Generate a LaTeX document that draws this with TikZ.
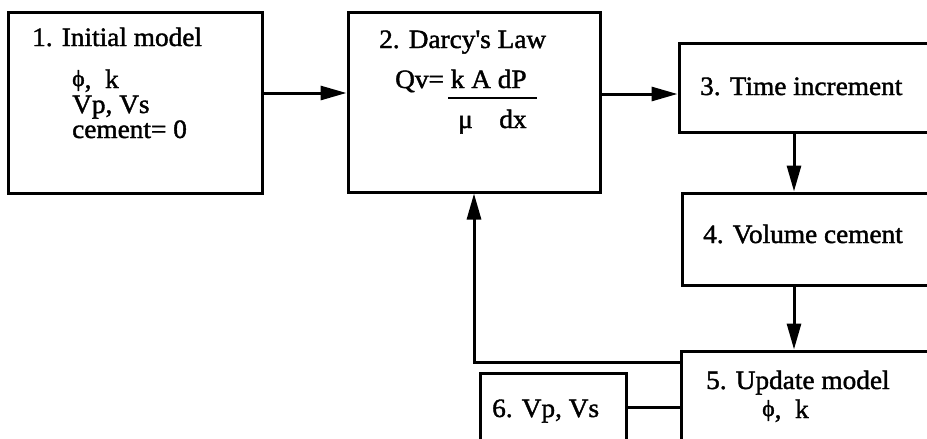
\documentclass[tikz,border=0pt]{standalone}
\usepackage{fontspec}
\setmainfont{Liberation Serif}[FakeStretch=1.03,FakeBold=1.5]
\usetikzlibrary{arrows.meta,calc,positioning}
\tikzstyle{block}=[draw,line width=3pt,inner sep=0pt]
\tikzstyle{txt}=[anchor=base west,inner sep=0pt,font=\fontsize{26.5}{26.5}\selectfont]
\tikzstyle{flow}=[line width=3pt,-{Triangle[length=26pt,width=14pt]}]
\newcommand{\phisym}{\raisebox{2pt}{\fontsize{23}{23}\selectfont ϕ}}

\begin{document}
\begin{tikzpicture}[x=1pt,y=-1pt]
  \useasboundingbox (0,0) rectangle (927,439);
  \clip (0,0) rectangle (927,439);
% boxes
  \node[block,minimum width=254pt,minimum height=181pt] (B1) at (135,102.5) {};
  \node[block,minimum width=252pt,minimum height=180pt] (B2) at (474,102) {};
  \node[block,minimum width=281pt,minimum height=89pt]  (B3) at (819.5,87.5) {};
  \node[block,minimum width=278pt,minimum height=92pt]  (B4) at (821,239) {};
  \node[block,minimum width=279pt,minimum height=129pt] (B5) at (820.5,415.5) {};
  \node[block,minimum width=146pt,minimum height=107pt] (B6) at (553,426.5) {};
% texts
  \node[txt] (T1) at (32,46) {1. Initial model};
  \foreach \t [count=\i] in {{\phisym, \ k},{Vp, Vs},{cement= 0}}
        \node[txt] (T1\i) at (72,63+25*\i) {\t};
  \node[txt] (T2) at (379,48) {2. Darcy\textquotesingle s Law};
  \node[txt] (Q) at (395,88) {Qv= k A dP};
  \node[txt] (M) at (458,128) {μ\quad dx};
  \draw[line width=2pt] (448,98) -- (537,98);
  \node[txt] (T3) at (700,95) {3. Time increment};
  \node[txt] (T4) at (703,243) {4. Volume cement};
  \node[txt] (T5) at (706,389) {5. Update model};
  \node[txt] (T51) at (762,418) {\phisym, \ k};
  \node[txt] (T6) at (492,417) {6. Vp, Vs};
% connectors
  \coordinate (c12) at (0,93);
  \coordinate (c23) at (0,94);
  \coordinate (c34) at (794,0);
  \coordinate (fb) at (474,362);
  \coordinate (c65) at (0,407);
  \draw[flow] (B1.east |- c12) -- (B2.west |- c12);
  \draw[flow] (B2.east |- c23) -- (B3.west |- c23);
  \draw[flow] (B3.south -| c34) -- (B4.north -| c34);
  \draw[flow] (B4.south -| c34) -- (B5.north -| c34);
  \draw[flow] (fb -| B5.west) -- (fb) -- (fb |- B2.south);
  \draw[line width=3pt] (B6.east |- c65) -- (B5.west |- c65);
\end{tikzpicture}
\end{document}
